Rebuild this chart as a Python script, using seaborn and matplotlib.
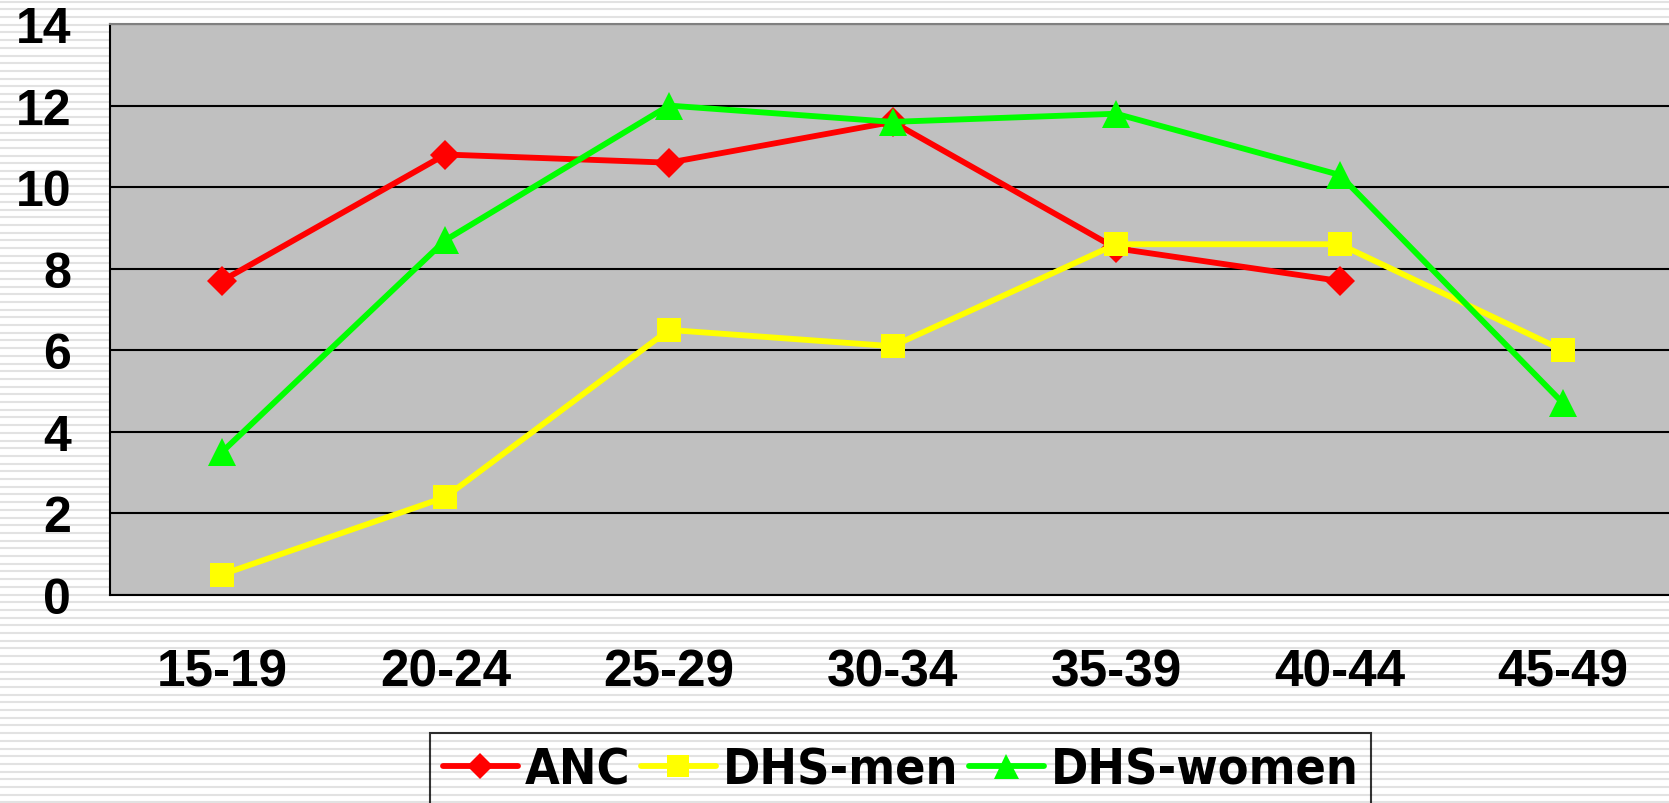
import numpy as np
import pandas as pd
import seaborn as sns
import matplotlib.pyplot as plt
from matplotlib.lines import Line2D
from matplotlib import font_manager

# values
age_groups = ["15-19", "20-24", "25-29", "30-34", "35-39", "40-44", "45-49"]
anc = [7.7, 10.8, 10.6, 11.6, 8.5, 7.7, np.nan]
dhs_men = [0.5, 2.4, 6.5, 6.1, 8.6, 8.6, 6.0]
dhs_women = [3.5, 8.7, 12.0, 11.6, 11.8, 10.3, 4.7]
series_names = ["ANC", "DHS-men", "DHS-women"]
y_ticks = [0, 2, 4, 6, 8, 10, 12, 14]

df = pd.DataFrame({"age": age_groups * 3,
                   "pos": list(range(7)) * 3,
                   "value": anc + dhs_men + dhs_women,
                   "series": sum([[s] * 7 for s in series_names], [])})
df = df.dropna()

colors = {"ANC": "#FF0000", "DHS-men": "#FFFF00", "DHS-women": "#00FF00"}
markers = {"ANC": "D", "DHS-men": "s", "DHS-women": "^"}
msizes = {"ANC": 15, "DHS-men": 17.5, "DHS-women": 20}

sns.set_style("white")
plt.rcParams["font.family"] = ["Liberation Sans", "DejaVu Sans"]
plt.rcParams["font.weight"] = "bold"
for k in ["text.color", "xtick.color", "ytick.color", "xtick.labelcolor", "ytick.labelcolor"]:
    plt.rcParams[k] = "black"

# a narrow face for the legend, like the original
names = {f.name for f in font_manager.fontManager.ttflist}
if "Liberation Sans Narrow" in names:
    leg_prop = {"family": "Liberation Sans Narrow", "weight": "bold", "size": 40}
else:
    leg_prop = {"family": "DejaVu Sans", "stretch": "condensed", "weight": "bold", "size": 36}

W, H = 1669, 804
fig = plt.figure(figsize=(W / 100, H / 100), dpi=100)
fig.patch.set_facecolor("white")

# striped backdrop
bg = fig.add_axes([0, 0, 1, 1], zorder=-5)
bg.set_xlim(0, W)
bg.set_ylim(H, 0)
bg.hlines(np.arange(2.6, H, 7.7), 0, W, color="#E2E2E2", lw=1.5)
bg.axis("off")

ax = fig.add_axes([110 / W, (H - 596) / H, (1675 - 110) / W, (596 - 25) / H])
ax.set_facecolor("#C0C0C0")

for s in series_names:
    sub = df[df["series"] == s]
    sns.lineplot(data=sub, x="pos", y="value", ax=ax, color=colors[s],
                 marker=markers[s], markersize=msizes[s], markeredgewidth=0,
                 linewidth=4.2, legend=False, zorder=3)

ax.set_xlim(-0.5, 6.5)
ax.set_ylim(0, 14)
ax.set_yticks(y_ticks)
ax.set_yticklabels([str(v) for v in y_ticks], fontsize=36, fontweight="bold")
ax.yaxis.grid(True, color="black", lw=1.5)
ax.set_axisbelow(True)

ax.set_xticks(range(7))
ax.set_xticklabels(age_groups, fontsize=37, fontweight="bold")
ax.set_xticks(np.arange(-0.5, 7, 1), minor=True)
ax.tick_params(axis="x", which="major", length=0, pad=38)
ax.tick_params(axis="x", which="minor", length=12, width=1.5, color="black", direction="out")
ax.tick_params(axis="y", length=12, width=1.5, color="black", direction="out", pad=16)
ax.set_xlabel("")
ax.set_ylabel("")

ax.spines["right"].set_visible(False)
for side in ["left", "bottom"]:
    ax.spines[side].set_color("black")
    ax.spines[side].set_linewidth(1.5)
ax.spines["top"].set_color("#808080")
ax.spines["top"].set_linewidth(1.5)

handles = [Line2D([], [], color=colors[s], marker=markers[s], markersize=msizes[s] * 0.9,
                  markeredgewidth=0, lw=4.2) for s in series_names]
leg = fig.legend(handles, series_names, loc="upper left",
                 bbox_to_anchor=(430 / W, 1 - 734 / H),
                 prop=leg_prop, ncol=3, frameon=True, fancybox=False,
                 facecolor="none", edgecolor="black", handlelength=1.5,
                 handletextpad=0.15, columnspacing=0.2, borderpad=0.25,
                 borderaxespad=0)
leg.get_frame().set_linewidth(1.5)

fig.savefig("out.png", dpi=100)
